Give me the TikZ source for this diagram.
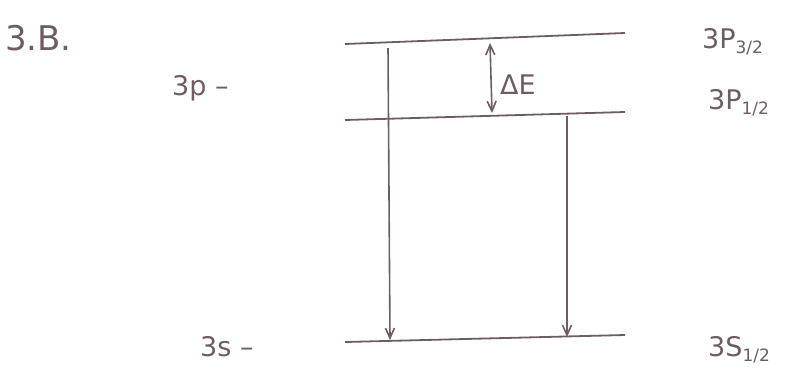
\documentclass[tikz,border=0pt]{standalone}
\usepackage{fontspec}
\setmainfont{DejaVu Sans}
\usetikzlibrary{arrows.meta}
\definecolor{ink}{HTML}{6E5C64}
\newcommand{\frsub}[1]{\raisebox{-5pt}{\fontsize{17}{19}\selectfont #1}}
\begin{document}
\begin{tikzpicture}[x=1pt,y=-1pt,
  level/.style={draw=ink,line width=1.8pt},
  trans/.style={draw=ink,line width=1.6pt,-{Straight Barb[length=10pt,width=9pt]}},
  lab/.style={text=ink,inner sep=0pt,anchor=west,font=\fontsize{27}{30}\selectfont},
  biglab/.style={text=ink,inner sep=0pt,anchor=west,font=\fontsize{34}{38}\selectfont}]
\useasboundingbox (0,0) rectangle (797,378);
% level end points
\coordinate (p3l) at (345,44); \coordinate (p3r) at (625,33);
\coordinate (p1l) at (345,120); \coordinate (p1r) at (625,112);
\coordinate (sl) at (345,342); \coordinate (sr) at (625,335);
\draw[level] (p3l) -- (p3r);
\draw[level] (p1l) -- (p1r);
\draw[level] (sl) -- (sr);
% transitions
\coordinate (a1) at (388,48); \coordinate (b1) at (390,340);
\coordinate (a2) at (567,116); \coordinate (b2) at (567,337);
\draw[trans] (a1) -- (b1);
\draw[trans] (a2) -- (b2);
% Delta E
\coordinate (e1) at (490,43); \coordinate (e2) at (492,113);
\draw[draw=ink,line width=1.6pt,{Straight Barb[length=10pt,width=9pt]}-{Straight Barb[length=10pt,width=9pt]}] (e1) -- (e2);
\node[lab] (de) at (500,85) {ΔE};
% labels
\node[biglab] (title) at (5,38) {3.B.};
\node[lab] (lp) at (172,88) {3p –};
\node[lab] (ls) at (200,347) {3s –};
\node[lab] (lp3) at (702,42) {3P\frsub{3/2}};
\node[lab] (lp1) at (708,103) {3P\frsub{1/2}};
\node[lab] (ls1) at (708,350) {3S\frsub{1/2}};
\end{tikzpicture}
\end{document}
